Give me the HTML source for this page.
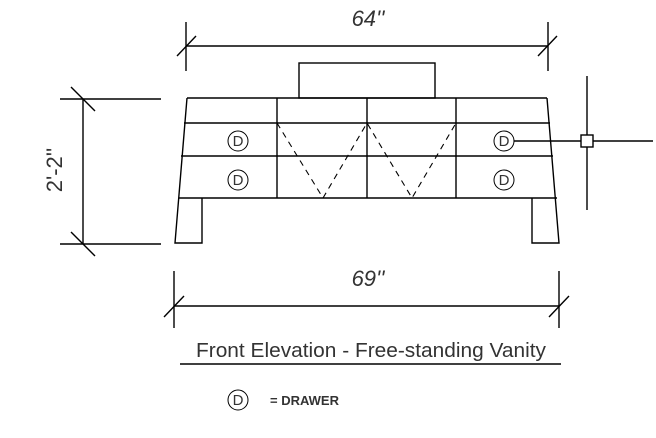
<!DOCTYPE html>
<html><head><meta charset="utf-8"><style>
html,body{margin:0;padding:0;background:#fff;width:656px;height:438px;overflow:hidden}
svg{display:block}
text{font-family:"Liberation Sans",sans-serif;fill:#333}
</style></head><body>
<svg width="656" height="438" viewBox="0 0 656 438" stroke="#000" stroke-width="1.4" fill="none">
<!-- top dim -->
<line x1="186" y1="46" x2="548" y2="46"/>
<line x1="186" y1="22" x2="186" y2="71"/>
<line x1="548" y1="22" x2="548" y2="71"/>
<line x1="177" y1="56" x2="196" y2="36"/>
<line x1="538" y1="56" x2="557" y2="36"/>
<text x="368" y="26" font-size="22" text-anchor="middle" stroke="none" font-style="italic" fill="#555">64''</text>
<!-- left dim -->
<line x1="83" y1="99" x2="83" y2="244"/>
<line x1="60" y1="99" x2="161" y2="99"/>
<line x1="60" y1="244" x2="161" y2="244"/>
<line x1="71" y1="87" x2="95" y2="111"/>
<line x1="71" y1="232" x2="95" y2="256"/>
<text x="0" y="0" font-size="22" text-anchor="middle" stroke="none" fill="#555" transform="translate(62,170) rotate(-90)">2'-2''</text>
<!-- top box -->
<rect x="299" y="63" width="136" height="35"/>
<!-- body -->
<line x1="187" y1="98" x2="547" y2="98"/>
<line x1="184" y1="123" x2="550" y2="123"/>
<line x1="181" y1="156" x2="553" y2="156"/>
<line x1="179" y1="198" x2="557" y2="198"/>
<polyline points="187,98 175,243 202,243 202,198"/>
<polyline points="547,98 559,243 532,243 532,198"/>
<line x1="277" y1="98" x2="277" y2="198"/>
<line x1="367" y1="98" x2="367" y2="198"/>
<line x1="456" y1="98" x2="456" y2="198"/>
<polyline points="277,123 323,198 367,123 412,198 456,123" stroke-dasharray="6,5" stroke-width="1.1"/>
<!-- drawers -->
<g stroke-width="1">
<circle cx="238" cy="141" r="10"/><circle cx="238" cy="180" r="10"/>
<circle cx="504" cy="141" r="10"/><circle cx="504" cy="180" r="10"/>
<circle cx="238" cy="400" r="10"/>
</g>
<g stroke="none" font-size="15" text-anchor="middle">
<text x="238" y="146">D</text><text x="238" y="185">D</text>
<text x="504" y="146">D</text><text x="504" y="185">D</text>
<text x="238" y="405">D</text>
</g>
<!-- crosshair -->
<line x1="514" y1="141" x2="653" y2="141"/>
<line x1="587" y1="76" x2="587" y2="210"/>
<rect x="581" y="135" width="12" height="12" fill="#fff"/>
<!-- bottom dim -->
<line x1="174" y1="306" x2="559" y2="306"/>
<line x1="174" y1="271" x2="174" y2="328"/>
<line x1="559" y1="271" x2="559" y2="328"/>
<line x1="164" y1="317" x2="184" y2="296"/>
<line x1="549" y1="317" x2="569" y2="296"/>
<text x="368" y="286" font-size="22" text-anchor="middle" stroke="none" font-style="italic" fill="#555">69''</text>
<!-- title -->
<line x1="180" y1="364" x2="561" y2="364"/>
<text x="371" y="357" font-size="20" text-anchor="middle" stroke="none" textLength="350" lengthAdjust="spacingAndGlyphs">Front Elevation - Free-standing Vanity</text>
<text x="270" y="405" font-size="13" font-weight="bold" stroke="none" fill="#222">= DRAWER</text>
</svg>
</body></html>
